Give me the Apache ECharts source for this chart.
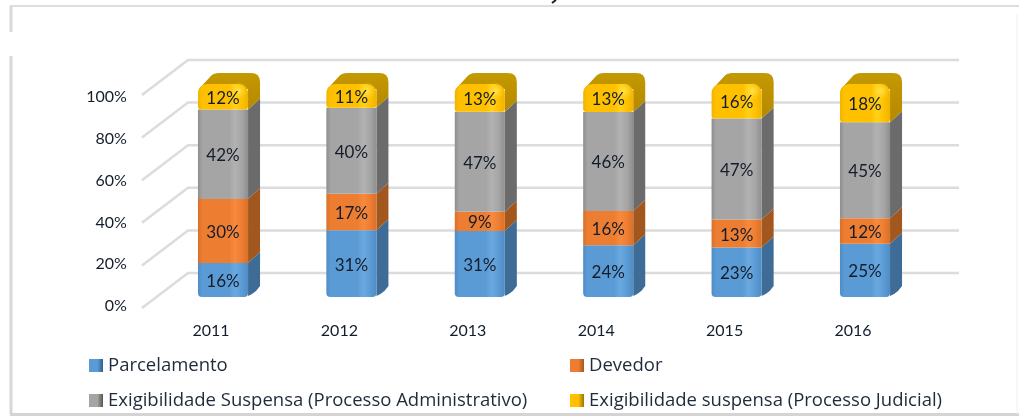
<!DOCTYPE html>
<html>
<head>
<meta charset="utf-8">
<title>Chart</title>
<script src="https://cdn.jsdelivr.net/npm/echarts@6/dist/echarts.min.js"></script>
<style>
  html, body { margin: 0; padding: 0; background: #fff; }
  #myChart { width: 1019px; height: 416px; }
</style>
</head>
<body>
<div id="myChart"></div>
<script>
// dados
const categories = ['2011', '2012', '2013', '2014', '2015', '2016'];
const parcelamento = [16, 31, 31, 24, 23, 25];
const devedor = [30, 17, 9, 16, 13, 12];
const suspensaAdm = [42, 40, 47, 46, 47, 45];
const suspensaJud = [12, 11, 13, 13, 16, 18];
const yTicks = [0, 20, 40, 60, 80, 100];

const seriesNames = [
  'Parcelamento',
  'Devedor',
  'Exigibilidade Suspensa (Processo Administrativo)',
  'Exigibilidade suspensa (Processo Judicial)'
];
const seriesValues = [parcelamento, devedor, suspensaAdm, suspensaJud];

const LinearGradient = echarts.graphic.LinearGradient;
const RadialGradient = echarts.graphic.RadialGradient;

// cores: frente (borda, base, brilho) e lateral
const palette = [
  { edge: '#4f8cc4', base: '#5b9bd5', light: '#6aa8e0', side: '#3e6c96', icon: '#2f5f8c' },
  { edge: '#d8702b', base: '#ed7d31', light: '#f78a3e', side: '#a2571f', icon: '#a2571f' },
  { edge: '#8e8e8e', base: '#a5a5a5', light: '#b2b2b2', side: '#6b6b6b', icon: '#555555' },
  { edge: '#f0b400', base: '#ffc000', light: '#ffd21a', side: '#b68a00', icon: '#9c7600' }
];

const depthX = 12;
const depthY = 11;
const barRatio = 0.39;

function frontFill(c) {
  return new LinearGradient(0, 0, 1, 0, [
    { offset: 0, color: c.edge },
    { offset: 0.09, color: c.base },
    { offset: 0.62, color: c.base },
    { offset: 0.74, color: c.light },
    { offset: 0.88, color: c.base },
    { offset: 1, color: c.edge }
  ]);
}

function renderSegment(level, params, api) {
  const c = palette[level];
  const bottom = api.coord([api.value(0), api.value(1)]);
  const top = api.coord([api.value(0), api.value(2)]);
  const half = api.size([1, 0])[0] * barRatio / 2;
  const x0 = bottom[0] - half;
  const x1 = bottom[0] + half;
  const yb = bottom[1];
  const yt = top[1];
  const children = [];

  // lateral
  if (level === 0) {
    children.push({
      type: 'path',
      shape: { pathData: `M${x1},${yb - 1} L${x1 + 4},${yb - 3} L${x1 + 8},${yb - 6} L${x1 + depthX},${yb - depthY} L${x1 + depthX},${yt - depthY} L${x1},${yt} Z` },
      style: { fill: c.side }
    });
  } else if (level === 3) {
    // face de cima, arredondada
    children.push({
      type: 'path',
      shape: { pathData: `M${x0 + 1},${yt + 5} L${x0 + 12},${yt - 7} Q${x0 + 15},${yt - 11} ${x0 + 21},${yt - 11} L${x1 + 3},${yt - 11} Q${x1 + depthX},${yt - 11} ${x1 + depthX},${yt - 2} L${x1 + depthX},${yb - depthY} L${x1},${yb} L${x1},${yt + 5} Z` },
      style: {
        fill: new LinearGradient(0, 0, 0, 1, [
          { offset: 0, color: '#c39a00' },
          { offset: 0.5, color: '#bd9000' },
          { offset: 1, color: c.side }
        ])
      }
    });
  } else {
    children.push({
      type: 'polygon',
      shape: { points: [[x1, yb], [x1 + depthX, yb - depthY], [x1 + depthX, yt - depthY], [x1, yt]] },
      style: { fill: c.side }
    });
  }

  // frente
  let r = 0;
  if (level === 0) r = [0, 0, 4, 4];
  if (level === 3) r = [9, 9, 3, 3];
  children.push({
    type: 'rect',
    shape: { x: x0, y: yt, width: x1 - x0, height: yb - yt, r: r },
    style: { fill: frontFill(c) }
  });

  if (level === 3) {
    children.push({
      type: 'circle',
      shape: { cx: x1 - 9, cy: yt + 7, r: 9 },
      style: {
        fill: new RadialGradient(0.5, 0.5, 0.5, [
          { offset: 0, color: 'rgba(255,232,90,0.9)' },
          { offset: 1, color: 'rgba(255,210,30,0)' }
        ])
      }
    });
  }

  children.push({
    type: 'text',
    style: {
      text: api.value(3) + '%',
      x: bottom[0],
      y: (yb + yt) / 2 + 1.5,
      align: 'center',
      verticalAlign: 'middle',
      font: '17px Lato',
      fill: '#141d2b'
    }
  });

  return { type: 'group', children: children };
}

function renderWall(params, api) {
  const p = api.coord([0, api.value(0)]);
  const last = api.coord([categories.length - 1, api.value(0)]);
  const y = p[1];
  const lineStyle = { stroke: '#dcdcdc', lineWidth: 2.5, fill: null };
  return {
    type: 'group',
    children: [
      { type: 'polyline', shape: { points: [[p[0] - 81, y + 11], [p[0] - 35, y - 24], [last[0] + 94, y - 24]] }, style: lineStyle }
    ]
  };
}

// monta os segmentos empilhados em 100%
const stackData = seriesValues.map(() => []);
categories.forEach((cat, i) => {
  const total = seriesValues.reduce((s, arr) => s + arr[i], 0);
  let acc = 0;
  seriesValues.forEach((arr, level) => {
    const start = acc / total * 100;
    acc += arr[i];
    stackData[level].push([i, start, acc / total * 100, arr[i]]);
  });
});

const seriesData = [{
  type: 'custom',
  name: 'grade',
  xAxisIndex: 0,
  yAxisIndex: 0,
  z: 1,
  silent: true,
  clip: false,
  renderItem: renderWall,
  encode: { y: 0 },
  data: yTicks.map((v) => [v])
}];

seriesNames.forEach((name, level) => {
  seriesData.push({
    type: 'custom',
    name: name,
    xAxisIndex: 0,
    yAxisIndex: 0,
    z: 2,
    clip: false,
    itemStyle: { color: palette[level].base },
    renderItem: (params, api) => renderSegment(level, params, api),
    encode: { x: 0, y: [1, 2] },
    data: stackData[level]
  });
});

function legendItem(level, left, top) {
  const c = palette[level];
  return {
    show: true,
    left: left,
    top: top,
    icon: 'rect',
    itemWidth: 14,
    itemHeight: 13,
    selectedMode: false,
    textStyle: { fontFamily: 'Open Sans', fontSize: 18.5, color: '#1f2a3a' },
    data: [{
      name: seriesNames[level],
      itemStyle: {
        color: new LinearGradient(0, 0, 1, 0, [
          { offset: 0, color: c.base },
          { offset: 0.6, color: c.base },
          { offset: 1, color: c.icon }
        ])
      }
    }]
  };
}

function frameLine(x1, y1, x2, y2, color, width) {
  return { type: 'line', silent: true, shape: { x1, y1, x2, y2 }, style: { stroke: color, lineWidth: width } };
}

const option = {
  backgroundColor: '#fff',
  animation: false,
  grid: [
    // plano das barras
    { left: 158.8, width: 770.4, top: 84, height: 213 },
    // só para os rótulos dos eixos
    { left: 146.8, width: 770.4, top: 97, height: 209 }
  ],
  xAxis: [
    { type: 'category', gridIndex: 0, data: categories, show: false },
    {
      type: 'category',
      gridIndex: 1,
      data: categories,
      axisLine: { show: false },
      axisTick: { show: false },
      axisLabel: { margin: 17, fontFamily: 'Lato', fontSize: 16, color: '#141d2b' }
    }
  ],
  yAxis: [
    { type: 'value', gridIndex: 0, min: 0, max: 100, interval: 20, show: false },
    {
      type: 'value',
      gridIndex: 1,
      min: 0,
      max: 100,
      interval: 20,
      axisLine: { show: false },
      axisTick: { show: false },
      splitLine: { show: false },
      axisLabel: { margin: 20, formatter: '{value}%', fontFamily: 'Lato', fontSize: 16, color: '#141d2b' }
    }
  ],
  legend: [
    legendItem(0, 84, 351),
    legendItem(1, 565, 351),
    legendItem(2, 84, 386),
    legendItem(3, 565, 386)
  ],
  // moldura cortada da imagem original
  graphic: [
    frameLine(10, 6, 1019, 6, '#dedede', 2),
    frameLine(11, 6, 11, 32, '#d8d8d8', 3),
    frameLine(11, 56, 11, 414, '#d8d8d8', 3),
    frameLine(10, 414.5, 1019, 414.5, '#d4d4d4', 3),
    frameLine(1017, 14, 1017, 414, '#f0f0f0', 1),
    frameLine(552, 3, 556, 0, '#222222', 2)
  ],
  series: seriesData
};

const myChart = echarts.init(document.getElementById('myChart'));
myChart.setOption(option);
</script>
</body>
</html>
